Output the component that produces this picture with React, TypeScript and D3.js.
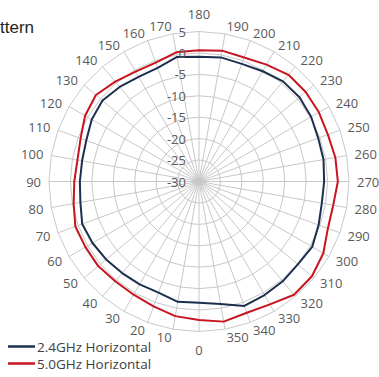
import React from "react";
import * as d3 from "d3";

const angles = [0, 10, 20, 30, 40, 50, 60, 70, 80, 90, 100, 110, 120, 130, 140, 150, 160, 170, 180, 190, 200, 210, 220, 230, 240, 250, 260, 270, 280, 290, 300, 310, 320, 330, 340, 350];
const h24 = [-1.7, -1.5, -2.4, -2.3, -2.1, -1.7, -1.3, -1.0, -1.9, -2.2, -2.3, -2.0, -1.1, -0.6, -1.2, -1.8, -1.8, -0.5, -0.9, -0.6, -0.8, -0.3, 0.5, 0.6, 0.2, -0.4, -0.5, -0.8, -0.9, -0.3, 0.5, 0.1, 0.4, 0.6, 0.9, -1.0];
const h50 = [2.3, 1.9, 1.0, 0.5, 0.4, 0.7, 0.6, 0.7, -0.3, -0.9, -1.2, -0.6, 0.7, 1.4, 0.4, -0.4, -0.5, 0.6, 0.6, 1.0, 0.8, 1.5, 2.5, 2.5, 2.3, 2.0, 2.3, 2.4, 1.8, 2.0, 3.5, 4.4, 4.5, 3.1, 2.6, 3.2];
const radialTicks = [5, 0, -5, -10, -15, -20, -25, -30];
const seriesNames = ["2.4GHz Horizontal", "5.0GHz Horizontal"];
const seriesColors = ["#1d2f4f", "#c8141e"];
const titleText = "ttern";

const W = 379, H = 377;
const cx = 199, cy = 181.5, R = 150;
const FONT = "'Open Sans', 'DejaVu Sans', sans-serif";

export default function App() {
  const r = d3.scaleLinear().domain([-30, 5]).range([0, R]);
  const a = d3.scaleLinear().domain([0, 360]).range([-Math.PI, Math.PI]);

  const ringLine = d3.lineRadial<number>()
    .angle((d) => a(d))
    .radius(function (this: any) { return 0; })
    .curve(d3.curveLinearClosed);

  const ringPath = (v: number) =>
    d3.lineRadial<number>().angle((d) => a(d)).radius(() => r(v)).curve(d3.curveLinearClosed)(angles) || "";

  const seriesPath = (vals: number[]) =>
    d3.lineRadial<number>()
      .angle((_, i) => a(angles[i]))
      .radius((d) => r(d))
      .curve(d3.curveLinearClosed)(vals) || "";

  void ringLine;

  const labelR = 158;

  return (
    <svg width={W} height={H} style={{ position: "absolute", left: 0, top: 0, background: "#fff" }}>
      <text x={0} y={33} fontFamily="'Liberation Sans', Arial, sans-serif" fontSize={17} fill="#231f20">{titleText}</text>
      <g transform={`translate(${cx},${cy})`}>
        {radialTicks.filter((v) => v > -30).map((v) => (
          <path key={"ring" + v} d={ringPath(v)} fill="none" stroke={v === 5 ? "#c3cad2" : "#c8c8c8"} strokeWidth={1} />
        ))}
        {angles.map((t) => {
          const ang = a(t);
          return (
            <line key={"sp" + t} x1={0} y1={0} x2={R * Math.sin(ang)} y2={-R * Math.cos(ang)} stroke="#c8c8c8" strokeWidth={1} />
          );
        })}
        <path d={seriesPath(h50)} fill="none" stroke={seriesColors[1]} strokeWidth={2} strokeLinejoin="round" />
        <path d={seriesPath(h24)} fill="none" stroke={seriesColors[0]} strokeWidth={2} strokeLinejoin="round" />
        {radialTicks.map((v) => (
          <text key={"rt" + v} x={-13} y={-r(v)} textAnchor="end" dominantBaseline="central" fontFamily={FONT} fontSize={13} fill="#595959">{v}</text>
        ))}
        {angles.map((t) => {
          const ang = a(t);
          const s = Math.sin(ang), c = Math.cos(ang);
          if (t === 0 || t === 180) {
            const yy = t === 180 ? -(labelR + 4 + 6) : labelR + 4 + 6;
            return <text key={"al" + t} x={0} y={yy} textAnchor="middle" dominantBaseline="central" fontFamily={FONT} fontSize={13} fill="#595959">{t}</text>;
          }
          return (
            <text key={"al" + t} x={labelR * s} y={-labelR * c} textAnchor={s > 0 ? "start" : "end"} dominantBaseline="central" fontFamily={FONT} fontSize={13} fill="#595959">{t}</text>
          );
        })}
      </g>
      {seriesNames.map((n, i) => (
        <g key={n}>
          <line x1={8} x2={35} y1={346.5 + i * 17} y2={346.5 + i * 17} stroke={seriesColors[i]} strokeWidth={2.5} />
          <text x={37} y={346.5 + i * 17} dominantBaseline="central" fontFamily={FONT} fontSize={13.5} fill="#404040">{n}</text>
        </g>
      ))}
    </svg>
  );
}
